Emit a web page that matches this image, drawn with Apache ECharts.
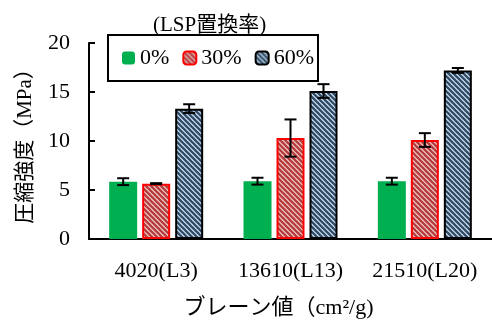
<!DOCTYPE html>
<html>
<head>
<meta charset="utf-8">
<script src="https://cdn.jsdelivr.net/npm/echarts@6/dist/echarts.min.js"></script>
<style>
  html, body { margin: 0; padding: 0; background: #fff; }
  #chart { width: 492px; height: 320px; }
</style>
</head>
<body>
<div id="chart"></div>
<script>
// Blaine fineness categories and compressive strength (MPa) by LSP replacement ratio
const categories = ['4020(L3)', '13610(L13)', '21510(L20)'];
const seriesNames = ['0%', '30%', '60%'];
const strength0 = [5.85, 5.9, 5.9];
const strength30 = [5.65, 10.3, 10.1];
const strength60 = [13.3, 15.1, 17.2];
const err0 = [0.35, 0.35, 0.35];
const err30 = [0.05, 1.9, 0.7];
const err60 = [0.45, 0.7, 0.25];
const yTicks = [0, 5, 10, 15, 20];

const serif = '"Liberation Serif", "Noto Sans CJK JP", serif';
const FS = 22;
const BAR_W = 28;
const BAR_GAP_PX = 5;

function stripes(bg, fg, size, lw) {
  const c = document.createElement('canvas');
  c.width = c.height = size;
  const g = c.getContext('2d');
  g.fillStyle = bg;
  g.fillRect(0, 0, size, size);
  g.strokeStyle = fg;
  g.lineWidth = lw;
  g.beginPath();
  g.moveTo(-1, -1); g.lineTo(size + 1, size + 1);
  g.moveTo(-1, size - 1); g.lineTo(1, size + 1);
  g.moveTo(size - 1, -1); g.lineTo(size + 1, 1);
  g.stroke();
  return c;
}

const redPattern = { image: stripes('#f3d0d0', '#b53c3c', 5, 2.3), repeat: 'repeat' };
const bluePattern = { image: stripes('#d6e8f3', '#304c6a', 5, 2.3), repeat: 'repeat' };

const values = [strength0, strength30, strength60];
const errors = [err0, err30, err60];
const styles = [
  { color: '#00b050' },
  { color: redPattern, borderColor: '#ff0000', borderWidth: 2 },
  { color: bluePattern, borderColor: '#000', borderWidth: 2 }
];

const series = [];
values.forEach((vals, s) => {
  series.push({
    name: seriesNames[s],
    type: 'bar',
    barWidth: BAR_W,
    barGap: (BAR_GAP_PX / BAR_W * 100) + '%',
    itemStyle: styles[s],
    data: vals,
    z: 2
  });
});

// error bars drawn on top of each bar
values.forEach((vals, s) => {
  const offset = (s - 1) * (BAR_W + BAR_GAP_PX);
  series.push({
    type: 'custom',
    z: 5,
    silent: true,
    data: vals.map((v, i) => [i, v, errors[s][i]]),
    renderItem: function (params, api) {
      const i = api.value(0), v = api.value(1), e = api.value(2);
      const hi = api.coord([i, v + e]);
      const lo = api.coord([i, v - e]);
      const x = hi[0] + offset;
      const cap = 6;
      const st = { stroke: '#000', lineWidth: 2 };
      return {
        type: 'group',
        children: [
          { type: 'line', shape: { x1: x, y1: hi[1], x2: x, y2: lo[1] }, style: st },
          { type: 'line', shape: { x1: x - cap, y1: hi[1], x2: x + cap, y2: hi[1] }, style: st },
          { type: 'line', shape: { x1: x - cap, y1: lo[1], x2: x + cap, y2: lo[1] }, style: st }
        ]
      };
    }
  });
});

const chart = echarts.init(document.getElementById('chart'), null, { renderer: 'canvas' });
chart.setOption({
  animation: false,
  backgroundColor: '#fff',
  title: {
    text: '(LSP置換率)',
    left: 148,
    top: 10,
    textStyle: { fontFamily: serif, fontSize: 21, fontWeight: 'normal', color: '#000' }
  },
  legend: {
    data: seriesNames,
    left: 122,
    top: 47,
    itemWidth: 13,
    itemHeight: 13,
    itemGap: 13,
    padding: 0,
    textStyle: { fontFamily: serif, fontSize: FS, color: '#000' }
  },
  graphic: [{
    type: 'rect',
    shape: { x: 108, y: 35, width: 210, height: 46 },
    style: { fill: 'none', stroke: '#000', lineWidth: 2 },
    z: 10
  }],
  grid: { left: 89, right: 0, top: 43, bottom: 81, containLabel: false, outerBoundsMode: 'none' },
  xAxis: {
    type: 'category',
    data: categories,
    name: 'ブレーン値（cm²/g)',
    nameLocation: 'middle',
    nameGap: 58,
    nameTextStyle: { fontFamily: serif, fontSize: FS, color: '#000', padding: [0, 24, 0, 0] },
    axisLine: { lineStyle: { color: '#000', width: 2 } },
    axisTick: { inside: true, length: 6, lineStyle: { color: '#000', width: 2 } },
    axisLabel: { interval: 0, hideOverlap: false, margin: 21, fontFamily: serif, fontSize: FS, color: '#000' }
  },
  yAxis: {
    type: 'value',
    min: yTicks[0],
    max: yTicks[yTicks.length - 1],
    interval: yTicks[1] - yTicks[0],
    name: '圧縮強度（MPa）',
    nameLocation: 'middle',
    nameRotate: 90,
    nameGap: 53,
    nameTextStyle: { fontFamily: serif, fontSize: 21, color: '#000' },
    axisLine: { show: true, lineStyle: { color: '#000', width: 2 } },
    axisTick: { show: true, inside: true, length: 6, lineStyle: { color: '#000', width: 2 } },
    axisLabel: { margin: 19, fontFamily: serif, fontSize: FS, color: '#000' },
    splitLine: { show: false }
  },
  series: series
});
</script>
</body>
</html>
